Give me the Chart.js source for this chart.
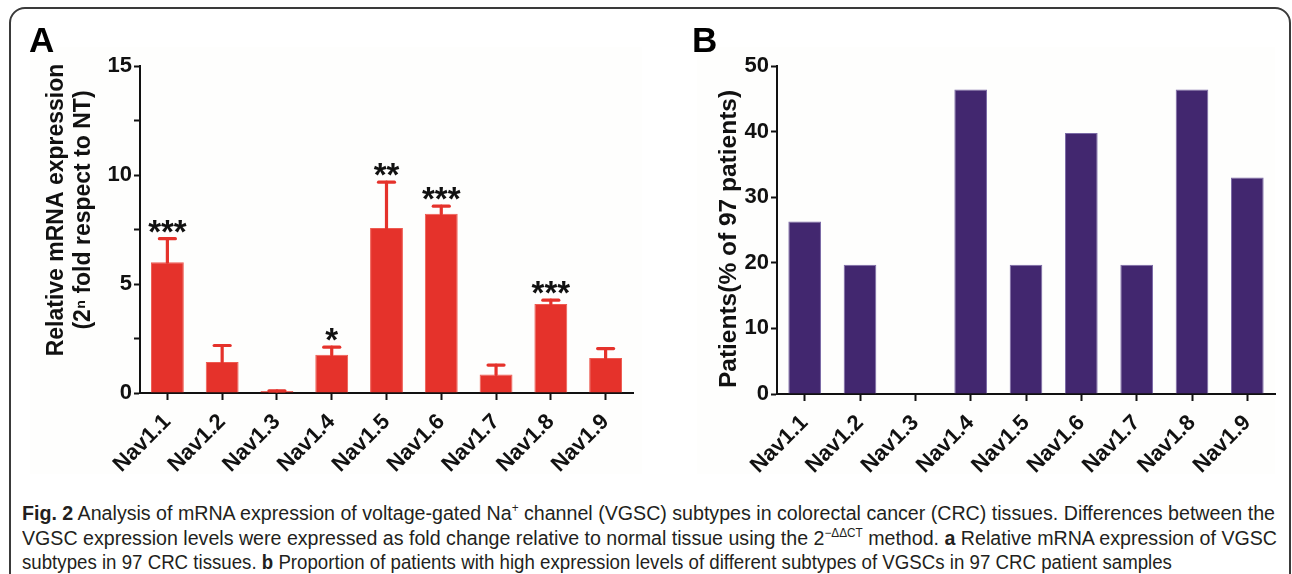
<!DOCTYPE html>
<html>
<head>
<meta charset="utf-8">
<script src="https://cdn.jsdelivr.net/npm/chart.js@4.4.0/dist/chart.umd.min.js"></script>
<style>
    html, body {
        margin: 0;
        padding: 0;
        background: #ffffff;
        width: 1292px;
        height: 574px;
        overflow: hidden;
        position: relative;
        font-family: "Liberation Sans", Arial, sans-serif;
    }
    #frame {
        position: absolute;
        left: 9px;
        top: 7px;
        width: 1278px;
        height: 580px;
        border: 2px solid #3a3a3a;
        border-radius: 16px;
    }
    .panelBg {
        position: absolute;
        top: 47px;
        height: 427px;
        background: #fefefd;
    }
    .wrap {
        position: absolute;
        top: 40px;
    }
    .letter {
        position: absolute;
        top: 20px;
        font: bold 35px "Liberation Sans", Arial, sans-serif;
        color: #000;
    }
    .cap {
        position: absolute;
        left: 22px;
        white-space: nowrap;
        font: 20px "Liberation Sans Narrow", "Liberation Sans", sans-serif;
        color: #231f20;
        transform-origin: 0 0;
    }
    .cap sup {
        font-size: 12px;
        line-height: 0;
    }
</style>
</head>
<body>
<div id="frame"></div>
<div class="panelBg" style="left:30px;width:612px"></div>
<div class="panelBg" style="left:697px;width:578px"></div>
<div class="wrap" style="left:0px"><canvas id="chartA" width="650" height="440"></canvas></div>
<div class="wrap" style="left:660px"><canvas id="chartB" width="632" height="440"></canvas></div>
<div class="letter" style="left:29px">A</div>
<div class="letter" style="left:692px">B</div>

<div class="cap" data-w="1253" style="top:502px"><b>Fig. 2</b> Analysis of mRNA expression of voltage-gated Na<sup>+</sup> channel (VGSC) subtypes in colorectal cancer (CRC) tissues. Differences between the</div>
<div class="cap" data-w="1255" style="top:527px">VGSC expression levels were expressed as fold change relative to normal tissue using the 2<sup>&minus;&Delta;&Delta;CT</sup> method. <b>a</b> Relative mRNA expression of VGSC</div>
<div class="cap" data-w="1150" style="top:551px">subtypes in 97 CRC tissues. <b>b</b> Proportion of patients with high expression levels of different subtypes of VGSCs in 97 CRC patient samples</div>

<script>
var subtypes = ['Nav1.1', 'Nav1.2', 'Nav1.3', 'Nav1.4', 'Nav1.5', 'Nav1.6', 'Nav1.7', 'Nav1.8', 'Nav1.9'];

// panel A: relative expression (mean) and top of the error bar
var expressionMean = [6.0, 1.42, 0.09, 1.75, 7.57, 8.22, 0.85, 4.08, 1.6];
var expressionErrTop = [7.08, 2.18, 0.1, 2.1, 9.67, 8.57, 1.28, 4.26, 2.04];
var significance = ['***', '', '', '*', '**', '***', '', '***', ''];
var expressionTicks = [0, 5, 10, 15];

// panel B: % of the 97 patients with high expression
var patientsPercent = [26.3, 19.7, 0, 46.4, 19.7, 39.8, 19.7, 46.4, 33.0];
var patientsTicks = [0, 10, 20, 30, 40, 50];

var RED = '#e5322b';
var PURPLE = '#42276f';
var FONT = '"Liberation Sans", Arial, sans-serif';

(function () {
    // squeeze caption lines to the widths of the original
    var lines = document.querySelectorAll('.cap');
    lines.forEach(function (line) {
        var target = Number(line.getAttribute('data-w'));
        var actual = line.getBoundingClientRect().width;
        line.style.transform = 'scaleX(' + (target / actual).toFixed(4) + ')';
    });

    function errorBars(tops, marks) {
        return {
            id: 'errorBars',
            afterDatasetsDraw: function (chart) {
                var ctx = chart.ctx;
                var meta = chart.getDatasetMeta(0);
                var yScale = chart.scales.y;
                ctx.save();
                ctx.strokeStyle = RED;
                ctx.lineWidth = 3.2;
                ctx.lineCap = 'round';
                meta.data.forEach(function (bar, i) {
                    var yTop = yScale.getPixelForValue(tops[i]);
                    ctx.beginPath();
                    ctx.moveTo(bar.x, bar.y);
                    ctx.lineTo(bar.x, yTop);
                    ctx.stroke();
                    ctx.beginPath();
                    ctx.moveTo(bar.x - 8, yTop);
                    ctx.lineTo(bar.x + 8, yTop);
                    ctx.stroke();
                    if (marks[i]) {
                        ctx.fillStyle = '#111';
                        ctx.font = 'bold 33px ' + FONT;
                        ctx.textAlign = 'center';
                        ctx.textBaseline = 'alphabetic';
                        ctx.fillText(marks[i], bar.x, yTop + 4);
                    }
                });
                ctx.restore();
            }
        };
    }

    function sideTitle(lines, centerY, size) {
        return {
            id: 'sideTitle',
            afterDraw: function (chart) {
                var ctx = chart.ctx;
                ctx.save();
                ctx.fillStyle = '#111';
                ctx.font = 'bold ' + size + 'px ' + FONT;
                ctx.textAlign = 'center';
                ctx.textBaseline = 'middle';
                lines.forEach(function (line) {
                    ctx.save();
                    ctx.translate(line.x, centerY);
                    ctx.rotate(-Math.PI / 2);
                    ctx.fillText(line.text, 0, 0);
                    ctx.restore();
                });
                ctx.restore();
            }
        };
    }

    function baseOptions(yMax, yStep, majors, yWidth, xHeight, rightPad) {
        return {
            responsive: false,
            animation: false,
            layout: {
                padding: { top: 26, right: rightPad, left: 0, bottom: 0 }
            },
            plugins: {
                legend: { display: false },
                tooltip: { enabled: false }
            },
            scales: {
                x: {
                    afterFit: function (scale) {
                        scale.height = xHeight;
                    },
                    grid: {
                        offset: false,
                        drawOnChartArea: false,
                        drawTicks: true,
                        tickLength: 7,
                        tickWidth: 2,
                        tickColor: '#111'
                    },
                    border: { display: true, color: '#111', width: 2 },
                    ticks: {
                        color: '#111',
                        minRotation: 45,
                        maxRotation: 45,
                        padding: 9,
                        font: { family: FONT, size: 22, weight: 'bold' }
                    }
                },
                y: {
                    min: 0,
                    max: yMax,
                    afterFit: function (scale) {
                        scale.width = yWidth;
                    },
                    ticks: {
                        stepSize: yStep,
                        color: '#111',
                        padding: 2,
                        font: { family: FONT, size: 22, weight: 'bold' },
                        callback: function (value) {
                            return majors.indexOf(value) >= 0 ? String(value) : '';
                        }
                    },
                    grid: {
                        drawOnChartArea: false,
                        drawTicks: true,
                        tickLength: 6,
                        tickWidth: 2,
                        tickColor: '#111'
                    },
                    border: { display: true, color: '#111', width: 2 }
                }
            }
        };
    }

    new Chart(document.getElementById('chartA'), {
        type: 'bar',
        data: {
            labels: subtypes,
            datasets: [{
                data: expressionMean,
                backgroundColor: RED,
                borderColor: '#ee5a50',
                borderWidth: 1,
                categoryPercentage: 1,
                barPercentage: 0.6
            }]
        },
        options: baseOptions(15, 2.5, expressionTicks, 140, 87, 17),
        plugins: [
            errorBars(expressionErrTop, significance),
            sideTitle([
                { x: 57, text: 'Relative mRNA expression' },
                { x: 84, text: '(2\u207F fold respect to NT)' }
            ], 170, 23)
        ]
    });

    new Chart(document.getElementById('chartB'), {
        type: 'bar',
        data: {
            labels: subtypes,
            datasets: [{
                data: patientsPercent,
                backgroundColor: PURPLE,
                borderColor: '#7b6aa6',
                borderWidth: 1,
                categoryPercentage: 1,
                barPercentage: 0.59
            }]
        },
        options: baseOptions(50, 10, patientsTicks, 117, 86, 17),
        plugins: [
            sideTitle([
                { x: 69, text: 'Patients(% of 97 patients)' }
            ], 199, 24.5)
        ]
    });
})();
</script>
</body>
</html>
